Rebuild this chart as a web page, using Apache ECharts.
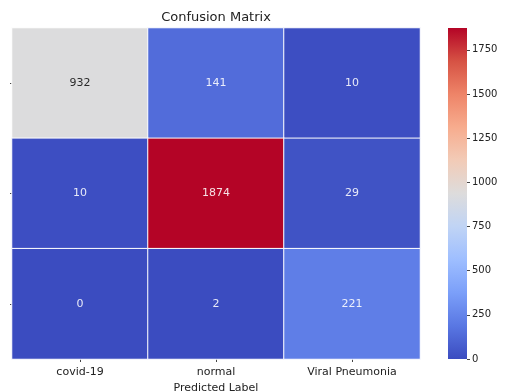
<!DOCTYPE html>
<html>
<head>
<meta charset="utf-8">
<style>
  html, body { margin: 0; padding: 0; background: #fff; }
  #chart { width: 505px; height: 391px; }
</style>
<script src="https://cdn.jsdelivr.net/npm/echarts@6/dist/echarts.min.js"></script>
</head>
<body>
<div id="chart"></div>
<script>
// Class names (rows = true label, columns = predicted label)
const classes = ['covid-19', 'normal', 'Viral Pneumonia'];

// Confusion counts, one array per true class
const rowCovid = [932, 141, 10];
const rowNormal = [10, 1874, 29];
const rowViral = [0, 2, 221];
const matrix = [rowCovid, rowNormal, rowViral];

// Colour bar scale and tick values
const scaleMin = 0;
const scaleMax = 1874;
const colorbarTicks = [0, 250, 500, 750, 1000, 1250, 1500, 1750];

// coolwarm colour map, sampled evenly from 0 to 1
const coolwarm = ['#3b4cc0', '#5977e3', '#7b9ff9', '#9ebeff', '#c0d4f5', '#dddcdc',
                  '#f2cbb7', '#f7ac8e', '#ee8468', '#d65244', '#b40426'];

const font = 'DejaVu Sans';

// heatmap cells: [col, row, value]; light cells get dark annotation text
const cells = [];
matrix.forEach((row, r) => {
  row.forEach((v, c) => {
    const t = (v - scaleMin) / (scaleMax - scaleMin);
    const dark = t > 0.33 && t < 0.67;
    cells.push({
      value: [c, r, v],
      label: { color: dark ? '#2a2a2a' : 'rgba(255,255,255,0.88)' }
    });
  });
});

const gradientStops = coolwarm.map((c, i) => ({ offset: i / (coolwarm.length - 1), color: c }));

const chart = echarts.init(document.getElementById('chart'), null, { renderer: 'canvas' });
chart.setOption({
  animation: false,
  backgroundColor: '#fff',
  title: {
    text: 'Confusion Matrix',
    left: 216,
    textAlign: 'center',
    top: 11,
    padding: 0,
    textStyle: { fontFamily: font, fontSize: 13, fontWeight: 'normal', color: '#222' }
  },
  grid: [
    { left: 12, right: 85, top: 28, bottom: 32, outerBoundsMode: 'none', containLabel: false },
    { left: 448, width: 19, top: 28, bottom: 32, outerBoundsMode: 'none', containLabel: false }
  ],
  xAxis: [
    {
      type: 'category',
      gridIndex: 0,
      data: classes,
      position: 'bottom',
      name: 'Predicted Label',
      nameLocation: 'middle',
      nameGap: 22,
      nameTextStyle: { fontFamily: font, fontSize: 11, color: '#222' },
      axisLine: { show: false },
      axisTick: { show: true, alignWithLabel: true, length: 3, lineStyle: { color: '#444' } },
      axisLabel: { fontFamily: font, fontSize: 11, color: '#222', margin: 8 },
      splitLine: { show: false }
    },
    {
      type: 'category',
      gridIndex: 1,
      data: [''],
      show: false
    }
  ],
  yAxis: [
    {
      type: 'category',
      gridIndex: 0,
      data: classes,
      inverse: true,
      axisLine: { show: false },
      axisTick: { show: true, alignWithLabel: true, length: 2, lineStyle: { color: '#444' } },
      axisLabel: { show: false },
      splitLine: { show: false }
    },
    {
      type: 'value',
      gridIndex: 1,
      min: scaleMin,
      max: scaleMax,
      position: 'right',
      axisLine: { show: false },
      axisTick: { show: true, length: 3, customValues: colorbarTicks, lineStyle: { color: '#444' } },
      axisLabel: {
        fontFamily: font, fontSize: 10, color: '#222', margin: 5,
        customValues: colorbarTicks,
        formatter: v => String(v)
      },
      splitLine: { show: false }
    }
  ],
  visualMap: {
    show: false,
    type: 'continuous',
    min: scaleMin,
    max: scaleMax,
    dimension: 2,
    seriesIndex: 0,
    inRange: { color: coolwarm }
  },
  series: [
    {
      type: 'heatmap',
      xAxisIndex: 0,
      yAxisIndex: 0,
      data: cells,
      itemStyle: { borderColor: '#fff', borderWidth: 1 },
      label: {
        show: true,
        fontFamily: font,
        fontSize: 11,
        formatter: p => String(p.value[2])
      }
    },
    {
      // colour bar: one bar spanning the full scale, filled with the colour map
      type: 'bar',
      xAxisIndex: 1,
      yAxisIndex: 1,
      data: [scaleMax],
      barWidth: '100%',
      silent: true,
      itemStyle: {
        color: new echarts.graphic.LinearGradient(0, 1, 0, 0, gradientStops)
      }
    }
  ]
});
</script>
</body>
</html>
